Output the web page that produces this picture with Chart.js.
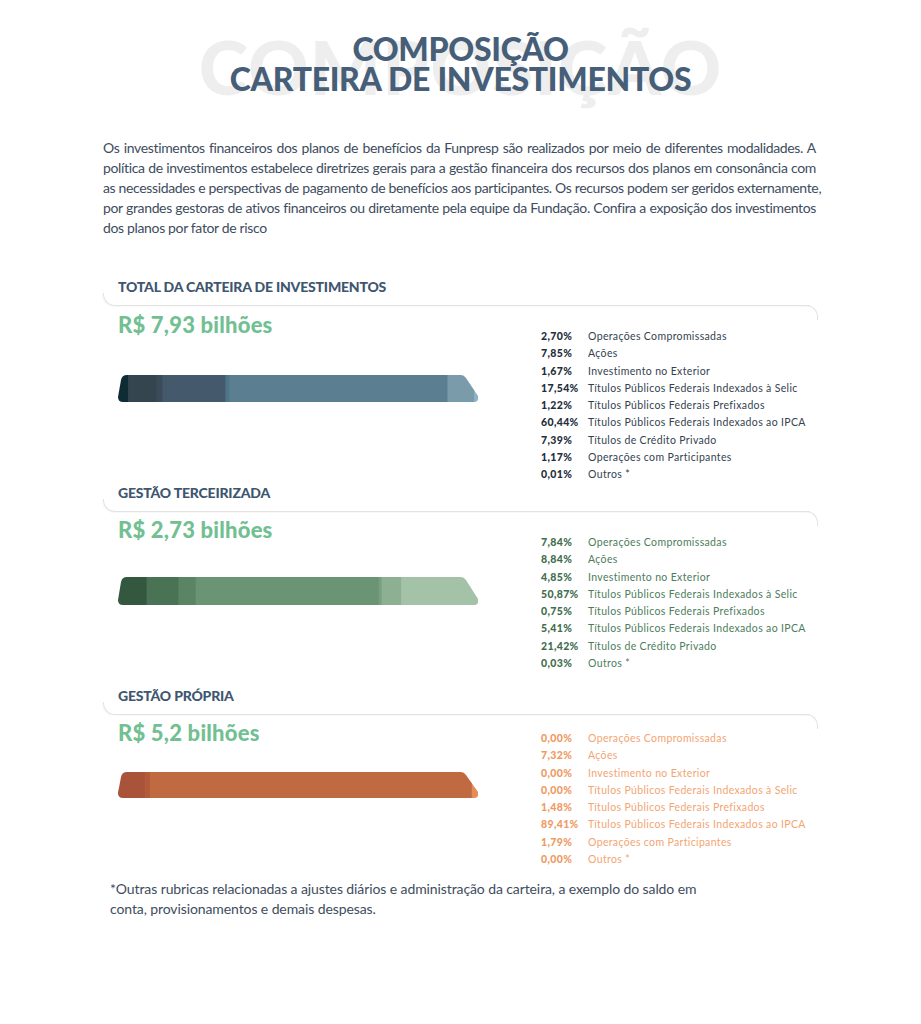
<!DOCTYPE html>
<html lang="pt-BR">
<head>
<meta charset="utf-8">
<title>Composição Carteira de Investimentos</title>
<script src="https://cdn.jsdelivr.net/npm/chart.js@4.4.1/dist/chart.umd.min.js"></script>
<style>
  html, body { margin: 0; padding: 0; background: #fff; }
  body { width: 921px; height: 1024px; position: relative; overflow: hidden; font-family: 'Lato', 'Noto Sans', sans-serif; }
  .abs { position: absolute; }
  .watermark { left: 0; width: 921px; top: 24px; text-align: center; font-size: 75px; font-weight: 900; color: #eeeeee; letter-spacing: 1px; line-height: 84px; }
  .title { left: 0; width: 921px; top: 34px; text-align: center; font-size: 32px; font-weight: 900; color: #465e77; line-height: 30px; letter-spacing: -0.3px; }
  .intro { left: 103px; width: 713px; top: 138px; font-size: 14px; color: #3e4c5e; line-height: 20px; letter-spacing: -0.35px; }
  .intro div { text-align: justify; text-align-last: justify; white-space: nowrap; }
  .intro div.last { text-align-last: left; }
  .hdr { left: 118px; font-size: 14px; font-weight: 900; color: #3e5670; letter-spacing: -0.2px; }
  .amount { left: 118px; font-size: 22px; font-weight: 900; color: #72bf92; letter-spacing: 0.2px; }
  .lineL { left: 103px; width: 706px; height: 12px; border-left: 1px solid #e3e3e3; border-bottom: 1px solid #e3e3e3; border-bottom-left-radius: 12px; box-shadow: -1px 1px 1px rgba(0,0,0,0.03); }
  .lineR { left: 797px; width: 20px; height: 14px; border-top: 1px solid #e3e3e3; border-right: 1px solid #e3e3e3; border-top-right-radius: 12px; }
  .legend { left: 541px; font-size: 10.5px; letter-spacing: 0.35px; }
  .legend .row { height: 17.3px; line-height: 17.3px; white-space: nowrap; }
  .legend .pct { display: inline-block; width: 47px; font-weight: 900; }
  .bar { left: 116px; width: 364px; }
  .foot { left: 110px; top: 879px; font-size: 14px; color: #3e4c5e; line-height: 20px; letter-spacing: -0.1px; }
</style>
</head>
<body>
<div class="abs watermark">COMPOSIÇÃO</div>
<div class="abs title">COMPOSIÇÃO<br>CARTEIRA DE INVESTIMENTOS</div>

<div class="abs intro">
  <div>Os investimentos financeiros dos planos de benefícios da Funpresp são realizados por meio de diferentes modalidades. A</div>
  <div>política de investimentos estabelece diretrizes gerais para a gestão financeira dos recursos dos planos em consonância com</div>
  <div>as necessidades e perspectivas de pagamento de benefícios aos participantes. Os recursos podem ser geridos externamente,</div>
  <div>por grandes gestoras de ativos financeiros ou diretamente pela equipe da Fundação. Confira a exposição dos investimentos</div>
  <div class="last">dos planos por fator de risco</div>
</div>

<div id="sections"></div>

<div class="abs foot">*Outras rubricas relacionadas a ajustes diários e administração da carteira, a exemplo do saldo em<br>conta, provisionamentos e demais despesas.</div>

<script>
// Categories (same order in every portfolio)
const categories = [
  'Operações Compromissadas',
  'Ações',
  'Investimento no Exterior',
  'Títulos Públicos Federais Indexados à Selic',
  'Títulos Públicos Federais Prefixados',
  'Títulos Públicos Federais Indexados ao IPCA',
  'Títulos de Crédito Privado',
  'Operações com Participantes',
  'Outros *'
];

// Share of each category (%), null = not listed for that portfolio
const totalValues = [2.70, 7.85, 1.67, 17.54, 1.22, 60.44, 7.39, 1.17, 0.01];
const terceirizadaValues = [7.84, 8.84, 4.85, 50.87, 0.75, 5.41, 21.42, null, 0.03];
const propriaValues = [0.00, 7.32, 0.00, 0.00, 1.48, 89.41, null, 1.79, 0.00];

const sectionTitles = ['TOTAL DA CARTEIRA DE INVESTIMENTOS', 'GESTÃO TERCEIRIZADA', 'GESTÃO PRÓPRIA'];
const sectionAmounts = ['R$ 7,93 bilhões', 'R$ 2,73 bilhões', 'R$ 5,2 bilhões'];

// Segment palettes
const totalColors = ['#0f2c35', '#34454f', '#3b4b59', '#45596d', '#4f7688', '#5b7e91', '#7a9caa', '#8bb4c6', '#8bb4c6'];
const greenColors = ['#34573f', '#4a7254', '#5a8463', '#6a9474', '#78a080', '#8cb091', '#a3c2a8', '#a3c2a8', '#a3c2a8'];
const orangeColors = ['#a9533a', '#a9533a', '#b35a3b', '#b35a3b', '#b35a3b', '#c06a42', '#c06a42', '#e48b58', '#e48b58'];

// Layout for each block (page pixels)
const blocks = [
  { values: totalValues, colors: totalColors, top: 278, line: 293, amount: 311, bar: 375, barH: 27, legend: 328,
    pctColor: '#1f2e3c', labelColor: '#34424f' },
  { values: terceirizadaValues, colors: greenColors, top: 484, line: 499, amount: 516, bar: 577, barH: 28, legend: 534,
    pctColor: '#3f6e4e', labelColor: '#4d7d5c' },
  { values: propriaValues, colors: orangeColors, top: 687, line: 702, amount: 719, bar: 772, barH: 26, legend: 730,
    pctColor: '#ef9a63', labelColor: '#f3a572' }
];

function fmt(v) {
  return v.toFixed(2).replace('.', ',') + '%';
}

// Clip the stacked bar into a rounded-left / slanted-right pill
const pillClip = {
  id: 'pillClip',
  beforeDatasetsDraw(chart) {
    const ctx = chart.ctx;
    const xs = chart.scales.x;
    const bar = chart.getDatasetMeta(0).data[0];
    const top = bar.y - bar.height / 2;
    const bottom = bar.y + bar.height / 2;
    const x0 = xs.getPixelForValue(0);
    const x1 = xs.getPixelForValue(xs.max);
    const r = 5;
    ctx.save();
    ctx.beginPath();
    ctx.moveTo(x0 + 4 + r, top);
    ctx.lineTo(x1 - 17, top);
    ctx.quadraticCurveTo(x1 - 14, top, x1 - 12, top + 3);
    ctx.lineTo(x1, bottom - 6);
    ctx.quadraticCurveTo(x1 + 1, bottom, x1 - 4, bottom);
    ctx.lineTo(x0 + r, bottom);
    ctx.quadraticCurveTo(x0, bottom, x0, bottom - r);
    ctx.lineTo(x0 + 3, top + r);
    ctx.quadraticCurveTo(x0 + 4, top, x0 + 4 + r, top);
    ctx.clip();
  },
  afterDatasetsDraw(chart) {
    chart.ctx.restore();
  }
};

const root = document.getElementById('sections');

blocks.forEach((b, i) => {
  // Header + card border
  root.insertAdjacentHTML('beforeend', `
    <div class="abs hdr" style="top:${b.top}px">${sectionTitles[i]}</div>
    <div class="abs lineL" style="top:${b.line}px"></div>
    <div class="abs lineR" style="top:${b.line + 12}px"></div>
    <div class="abs amount" style="top:${b.amount}px">${sectionAmounts[i]}</div>
  `);

  // Legend
  const rows = categories
    .map((c, k) => ({ c, v: b.values[k] }))
    .filter(d => d.v !== null)
    .map(d => `<div class="row"><span class="pct" style="color:${b.pctColor}">${fmt(d.v)}</span><span style="color:${b.labelColor}">${d.c}</span></div>`)
    .join('');
  root.insertAdjacentHTML('beforeend', `<div class="abs legend" style="top:${b.legend}px">${rows}</div>`);

  // Bar
  const wrap = document.createElement('div');
  wrap.className = 'abs bar';
  wrap.style.top = b.bar + 'px';
  wrap.style.height = b.barH + 'px';
  const canvas = document.createElement('canvas');
  wrap.appendChild(canvas);
  root.appendChild(wrap);

  const datasets = [];
  categories.forEach((c, k) => {
    if (b.values[k] === null) return;
    datasets.push({
      label: c,
      data: [b.values[k]],
      backgroundColor: b.colors[k],
      borderWidth: 0,
      barPercentage: 1,
      categoryPercentage: 1,
      stack: 'carteira'
    });
  });
  const sum = b.values.reduce((s, v) => s + (v || 0), 0);

  new Chart(canvas, {
    type: 'bar',
    data: { labels: [''], datasets },
    options: {
      indexAxis: 'y',
      responsive: true,
      maintainAspectRatio: false,
      animation: false,
      layout: { padding: { left: 2, right: 2 } },
      plugins: { legend: { display: false }, tooltip: { enabled: false } },
      scales: {
        x: { stacked: true, min: 0, max: sum, display: false },
        y: { stacked: true, display: false }
      }
    },
    plugins: [pillClip]
  });
});
</script>
</body>
</html>
